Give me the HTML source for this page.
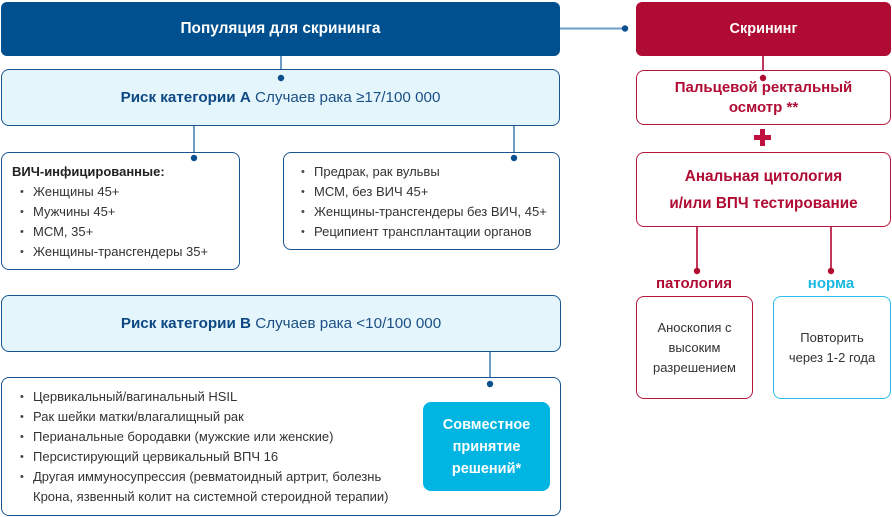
<!DOCTYPE html>
<html><head><meta charset="utf-8">
<style>
*{margin:0;padding:0;box-sizing:border-box}
html,body{width:892px;height:517px;background:#fff;overflow:hidden}
body{position:relative;font-family:"Liberation Sans","Noto Sans CJK SC",sans-serif;color:#333}
.b{position:absolute}
.dark{background:#00508f;border-radius:6px;color:#fff;font-weight:bold;font-size:15.4px;display:flex;align-items:center;justify-content:center}
.red{background:#b00b32;border-radius:6px;color:#fff;font-weight:bold;font-size:14.5px;display:flex;align-items:center;justify-content:center}
.lb{background:#e5f5fc;border:1.5px solid #1a5590;border-radius:8px;display:flex;align-items:center;justify-content:center;font-size:15.2px;color:#1a4f85}
.lb b{color:#0d4883}
.wb{background:#fff;border:1.5px solid #1a5590;border-radius:8px}
.rb{background:#fff;border:1.5px solid #b6173f;border-radius:8px;display:flex;align-items:center;justify-content:center;text-align:center;color:#b00b32;font-weight:bold;font-size:15px}
.cb{background:#fff;border:1.5px solid #2ec0ea;border-radius:8px;display:flex;align-items:center;justify-content:center;text-align:center;font-size:13px;line-height:20px;color:#333}
.li{position:absolute;font-size:13px;line-height:20px;white-space:nowrap;color:#333}
.li::before{content:"•";position:absolute;left:-13px;font-size:11px;color:#444}
</style></head><body>

<svg class="b" style="left:0;top:0" width="892" height="517">
 <g stroke="#6d9cc6" stroke-width="2" fill="none">
  <line x1="560" y1="28.5" x2="625" y2="28.5"/>
  <line x1="281" y1="56" x2="281" y2="78"/>
  <line x1="194" y1="126" x2="194" y2="158"/>
  <line x1="514" y1="126" x2="514" y2="158"/>
  <line x1="490" y1="352" x2="490" y2="384"/>
 </g>
 <g stroke="#c2385c" stroke-width="2" fill="none">
  <line x1="763" y1="56" x2="763" y2="78"/>
  <line x1="697" y1="227" x2="697" y2="271"/>
  <line x1="831" y1="227" x2="831" y2="271"/>
 </g>
</svg>

<div class="b dark" style="left:1px;top:2px;width:559px;height:54px">Популяция для скрининга</div>
<div class="b red" style="left:636px;top:2px;width:255px;height:54px">Скрининг</div>

<div class="b lb" style="left:1px;top:69px;width:559px;height:57px"><span><b>Риск категории А</b> Случаев рака ≥17/100 000</span></div>

<div class="b wb" style="left:1px;top:152px;width:239px;height:118px"></div>
<div class="b" style="left:12px;top:162px;font-size:13px;line-height:20px;font-weight:bold;color:#222">ВИЧ-инфицированные:</div>
<div class="li" style="left:33px;top:182px">Женщины 45+</div>
<div class="li" style="left:33px;top:202px">Мужчины 45+</div>
<div class="li" style="left:33px;top:222px">МСМ, 35+</div>
<div class="li" style="left:33px;top:242px">Женщины-трансгендеры 35+</div>

<div class="b wb" style="left:283px;top:152px;width:277px;height:98px"></div>
<div class="li" style="left:314px;top:162px">Предрак, рак вульвы</div>
<div class="li" style="left:314px;top:182px">МСМ, без ВИЧ 45+</div>
<div class="li" style="left:314px;top:202px">Женщины-трансгендеры без ВИЧ, 45+</div>
<div class="li" style="left:314px;top:222px">Реципиент трансплантации органов</div>

<div class="b lb" style="left:1px;top:295px;width:560px;height:57px"><span><b>Риск категории В</b> Случаев рака &lt;10/100 000</span></div>

<div class="b wb" style="left:1px;top:377px;width:560px;height:139px"></div>
<div class="li" style="left:33px;top:387px">Цервикальный/вагинальный HSIL</div>
<div class="li" style="left:33px;top:407px">Рак шейки матки/влагалищный рак</div>
<div class="li" style="left:33px;top:427px">Перианальные бородавки (мужские или женские)</div>
<div class="li" style="left:33px;top:447px">Персистирующий цервикальный ВПЧ 16</div>
<div class="li" style="left:33px;top:467px">Другая иммуносупрессия (ревматоидный артрит, болезнь</div>
<div class="b" style="left:33px;top:487px;font-size:13px;line-height:20px;white-space:nowrap;color:#333">Крона, язвенный колит на системной стероидной терапии)</div>

<div class="b" style="left:423px;top:402px;width:127px;height:89px;background:#00b5e2;border-radius:8px;color:#fff;font-weight:bold;font-size:14.5px;line-height:22px;text-align:center;display:flex;align-items:center;justify-content:center">Совместное<br>принятие<br>решений*</div>

<div class="b rb" style="left:636px;top:70px;width:255px;height:55px;line-height:20px">Пальцевой ректальный<br>осмотр **</div>
<div class="b rb" style="left:636px;top:152px;width:255px;height:75px;line-height:27px;font-size:15.3px">Анальная цитология<br>и/или ВПЧ тестирование</div>

<div class="b" style="left:754px;top:135px;width:17px;height:5px;background:#c0103f"></div>
<div class="b" style="left:760px;top:129px;width:5px;height:17px;background:#c0103f"></div>

<div class="b" style="left:644px;top:274px;width:100px;text-align:center;font-weight:bold;font-size:15px;line-height:20px;color:#b00b32">патология</div>
<div class="b" style="left:781px;top:274px;width:100px;text-align:center;font-weight:bold;font-size:15px;line-height:20px;color:#1ab8e4">норма</div>

<div class="b rb" style="left:636px;top:296px;width:117px;height:103px;font-weight:normal;font-size:13px;line-height:20px;color:#333">Аноскопия с<br>высоким<br>разрешением</div>
<div class="b cb" style="left:773px;top:296px;width:118px;height:103px">Повторить<br>через 1-2 года</div>

<svg class="b" style="left:0;top:0" width="892" height="517">
 <g fill="#0a4f8e">
  <circle cx="625" cy="28.5" r="3.2"/>
  <circle cx="281" cy="78" r="3.2"/>
  <circle cx="194" cy="158" r="3.2"/>
  <circle cx="514" cy="158" r="3.2"/>
  <circle cx="490" cy="384" r="3.2"/>
 </g>
 <g fill="#b00b32">
  <circle cx="763" cy="78" r="3.2"/>
  <circle cx="697" cy="271" r="3.2"/>
  <circle cx="831" cy="271" r="3.2"/>
 </g>
</svg>
</body></html>
